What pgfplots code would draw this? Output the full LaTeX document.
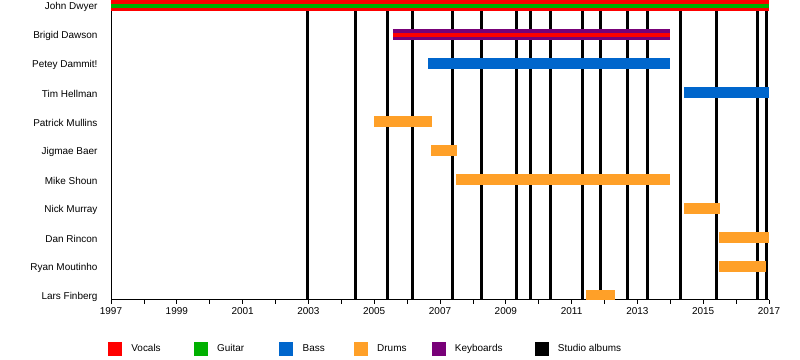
\documentclass[border=0pt]{standalone}
\usepackage{pgfplots}
\pgfplotsset{compat=1.18}
\usepackage{fontspec}
\setmainfont{Liberation Sans}
\definecolor{cVoc}{RGB}{255,0,0}
\definecolor{cGui}{RGB}{0,176,0}
\definecolor{cBas}{RGB}{0,102,204}
\definecolor{cDru}{RGB}{255,160,40}
\definecolor{cKey}{RGB}{120,0,120}
\definecolor{cAlb}{RGB}{0,0,0}
\pgfplotsset{
  sq/.style={legend image code/.code={\fill[#1] (0bp,-6.5bp) rectangle (13bp,6.5bp);}},
  bar/.style={draw=#1, line width=11bp, line cap=butt, forget plot},
  stripe/.style={draw=#1, line width=4bp, line cap=butt, forget plot},
  alb/.style={draw=cAlb, line width=3bp, forget plot},
}
\begin{document}
\begin{tikzpicture}
\useasboundingbox (0,0) rectangle (800bp,360bp);
\begin{axis}[
  at={(111bp,60bp)}, anchor=south west,
  scale only axis, width=658bp, height=300bp,
  xmin=1997, xmax=2017, ymin=-0.155, ymax=10.19,
  axis x line*=bottom, axis y line*=left,
  axis line style={line width=1bp, -},
  xtick={1997,1999,...,2017},
  minor xtick={1998,2000,...,2016},
  x tick label style={/pgf/number format/1000 sep={}},
  tick align=outside,
  xtick style={black, line width=0.8bp},
  major tick length=4bp, minor tick length=4bp,
  ytick={0,...,10},
  yticklabels={Lars Finberg,Ryan Moutinho,Dan Rincon,Nick Murray,Mike Shoun,Jigmae Baer,Patrick Mullins,Tim Hellman,Petey Dammit!,Brigid Dawson,John Dwyer},
  ytick style={draw=none},
  yticklabel style={xshift=-6bp, yshift=-1bp},
  tick label style={font=\fontsize{10}{12}\selectfont},
  /pgf/number format/assume math mode=true,
  legend columns=6,
  legend style={draw=none, fill=none, inner sep=0pt, outer sep=0pt,
    at={(rel axis cs:-0.0046,-0.1617)}, anchor=west,
    nodes={inner sep=0pt, font=\fontsize{10}{12}\selectfont},
    /tikz/every odd column/.append style={column sep=10bp},
    /tikz/every even column/.append style={column sep=32bp}},
  legend cell align=left,
]
% studio albums
\addplot[alb] coordinates {(2002.96,-1) (2002.96,11)};
\addplot[alb] coordinates {(2004.43,-1) (2004.43,11)};
\addplot[alb] coordinates {(2005.40,-1) (2005.40,11)};
\addplot[alb] coordinates {(2006.16,-1) (2006.16,11)};
\addplot[alb] coordinates {(2007.37,-1) (2007.37,11)};
\addplot[alb] coordinates {(2008.26,-1) (2008.26,11)};
\addplot[alb] coordinates {(2009.32,-1) (2009.32,11)};
\addplot[alb] coordinates {(2009.75,-1) (2009.75,11)};
\addplot[alb] coordinates {(2010.35,-1) (2010.35,11)};
\addplot[alb] coordinates {(2011.32,-1) (2011.32,11)};
\addplot[alb] coordinates {(2011.87,-1) (2011.87,11)};
\addplot[alb] coordinates {(2012.69,-1) (2012.69,11)};
\addplot[alb] coordinates {(2013.30,-1) (2013.30,11)};
\addplot[alb] coordinates {(2014.30,-1) (2014.30,11)};
\addplot[alb] coordinates {(2015.40,-1) (2015.40,11)};
\addplot[alb] coordinates {(2016.64,-1) (2016.64,11)};
\addplot[alb] coordinates {(2016.92,-1) (2016.92,11)};
% members
\addplot[bar=cVoc] coordinates {(1997,10) (2017,10)};
\addplot[stripe=cGui] coordinates {(1997,10) (2017,10)};
\addplot[bar=cKey] coordinates {(2005.57,9) (2014.0,9)};
\addplot[stripe=cVoc] coordinates {(2005.57,9) (2014.0,9)};
\addplot[bar=cBas] coordinates {(2006.64,8) (2014.0,8)};
\addplot[bar=cBas] coordinates {(2014.42,7) (2017,7)};
\addplot[bar=cDru] coordinates {(2005.0,6) (2006.76,6)};
\addplot[bar=cDru] coordinates {(2006.73,5) (2007.52,5)};
\addplot[bar=cDru] coordinates {(2007.49,4) (2014.0,4)};
\addplot[bar=cDru] coordinates {(2014.42,3) (2015.51,3)};
\addplot[bar=cDru] coordinates {(2015.48,2) (2017,2)};
\addplot[bar=cDru] coordinates {(2015.48,1) (2016.91,1)};
\addplot[bar=cDru] coordinates {(2011.44,0) (2012.32,0)};
% legend
\addlegendimage{sq=cVoc}\addlegendentry{Vocals\kern1bp}
\addlegendimage{sq=cGui}\addlegendentry{Guitar\kern3bp}
\addlegendimage{sq=cBas}\addlegendentry{Bass\kern-3bp}
\addlegendimage{sq=cDru}\addlegendentry{Drums\kern-7bp}
\addlegendimage{sq=cKey}\addlegendentry{Keyboards}
\addlegendimage{sq=cAlb}\addlegendentry{Studio albums}
\end{axis}
\end{tikzpicture}
\end{document}
